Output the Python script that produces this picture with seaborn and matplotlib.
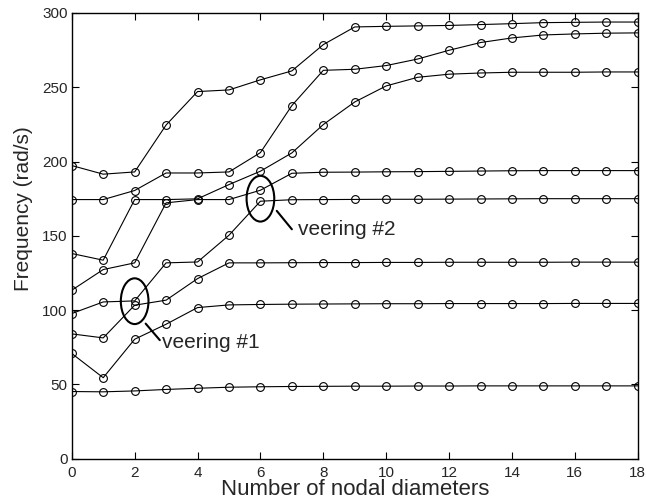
import matplotlib
matplotlib.use("Agg")
import matplotlib.pyplot as plt
import seaborn as sns
from matplotlib.patches import Ellipse

# Data (frequencies sorted per nodal diameter)
nodal_diameters = list(range(19))
mode1 = [45.2, 45.0, 45.6, 46.6, 47.4, 48.1, 48.4, 48.6, 48.7, 48.8, 48.8, 48.9, 48.9, 49.0, 49.0, 49.0, 49.0, 49.0, 49.0]
mode2 = [70.8, 54.5, 80.4, 90.5, 101.7, 103.5, 103.8, 104.0, 104.1, 104.2, 104.3, 104.3, 104.4, 104.4, 104.4, 104.4, 104.5, 104.5, 104.5]
mode3 = [84.0, 81.3, 103.3, 106.7, 121.2, 131.8, 131.8, 131.9, 132.0, 132.0, 132.1, 132.1, 132.2, 132.2, 132.2, 132.2, 132.3, 132.3, 132.3]
mode4 = [97.7, 105.5, 106.2, 131.8, 132.4, 150.4, 173.3, 174.3, 174.4, 174.5, 174.6, 174.6, 174.7, 174.8, 174.9, 175.0, 175.0, 175.0, 175.0]
mode5 = [113.4, 127.3, 131.8, 172.2, 174.4, 174.4, 180.7, 192.1, 192.8, 192.9, 193.1, 193.2, 193.4, 193.6, 193.8, 193.9, 193.9, 193.9, 193.9]
mode6 = [138.1, 133.6, 174.4, 174.4, 174.9, 184.5, 193.5, 205.8, 224.9, 240.1, 250.9, 256.7, 258.8, 259.6, 260.1, 260.1, 260.1, 260.3, 260.3]
mode7 = [174.4, 174.4, 180.5, 192.3, 192.3, 193.0, 206.0, 237.7, 261.4, 262.1, 264.6, 269.0, 274.9, 280.1, 283.2, 285.2, 285.9, 286.4, 286.6]
mode8 = [197.3, 191.5, 193.0, 224.6, 247.1, 248.2, 255.0, 261.0, 278.7, 290.6, 291.0, 291.3, 291.6, 292.2, 292.8, 293.5, 293.7, 293.9, 293.9]
modes = [mode1, mode2, mode3, mode4, mode5, mode6, mode7, mode8]

xticks = list(range(0, 19, 2))
yticks = list(range(0, 301, 50))

# veering annotations
veering_labels = ["veering #1", "veering #2"]
veering_centres = [(2.0, 106.0), (6.0, 175.0)]

sns.set_theme(style="ticks")
plt.rcParams["font.family"] = ["Liberation Sans", "DejaVu Sans"]
plt.rcParams["xtick.direction"] = "in"
plt.rcParams["ytick.direction"] = "in"

fig = plt.figure(figsize=(6.46, 4.99), dpi=100)
ax = fig.add_axes([0.1111, 0.0808, 0.8761, 0.8932])

for m in modes:
    sns.lineplot(
        x=nodal_diameters, y=m, ax=ax, color="black", linewidth=0.8,
        marker="o", markersize=5.6, markerfacecolor="none",
        markeredgecolor="black", markeredgewidth=0.8, zorder=3,
    )

# ellipses around the veering regions
for (cx, cy) in veering_centres:
    ax.add_patch(Ellipse((cx, cy), width=0.88, height=30.8, fill=False,
                         edgecolor="black", linewidth=1.5, zorder=4))

ax.plot([2.35, 2.8], [90.9, 79.8], color="black", linewidth=1.5)
ax.plot([6.52, 7.0], [166.8, 154.4], color="black", linewidth=1.5)
ax.text(2.86, 78.4, veering_labels[0], fontsize=15, va="center", ha="left")
ax.text(7.2, 154.1, veering_labels[1], fontsize=15, va="center", ha="left")

ax.set_xlim(0, 18)
ax.set_ylim(0, 300)
ax.set_xticks(xticks)
ax.set_yticks(yticks)
ax.tick_params(axis="both", which="both", top=True, right=True,
               length=5, width=0.8, labelsize=11, color="black")
ax.tick_params(axis="x", pad=5)
ax.tick_params(axis="y", pad=3)
for s in ax.spines.values():
    s.set_visible(True)
    s.set_linewidth(1.0)
    s.set_color("black")

ax.set_xlabel("Number of nodal diameters", fontsize=16)
ax.set_ylabel("Frequency (rad/s)", fontsize=15)
ax.xaxis.set_label_coords(0.5, -0.045)
ax.yaxis.set_label_coords(-0.068, 0.56)

fig.savefig("out.png", dpi=100)
